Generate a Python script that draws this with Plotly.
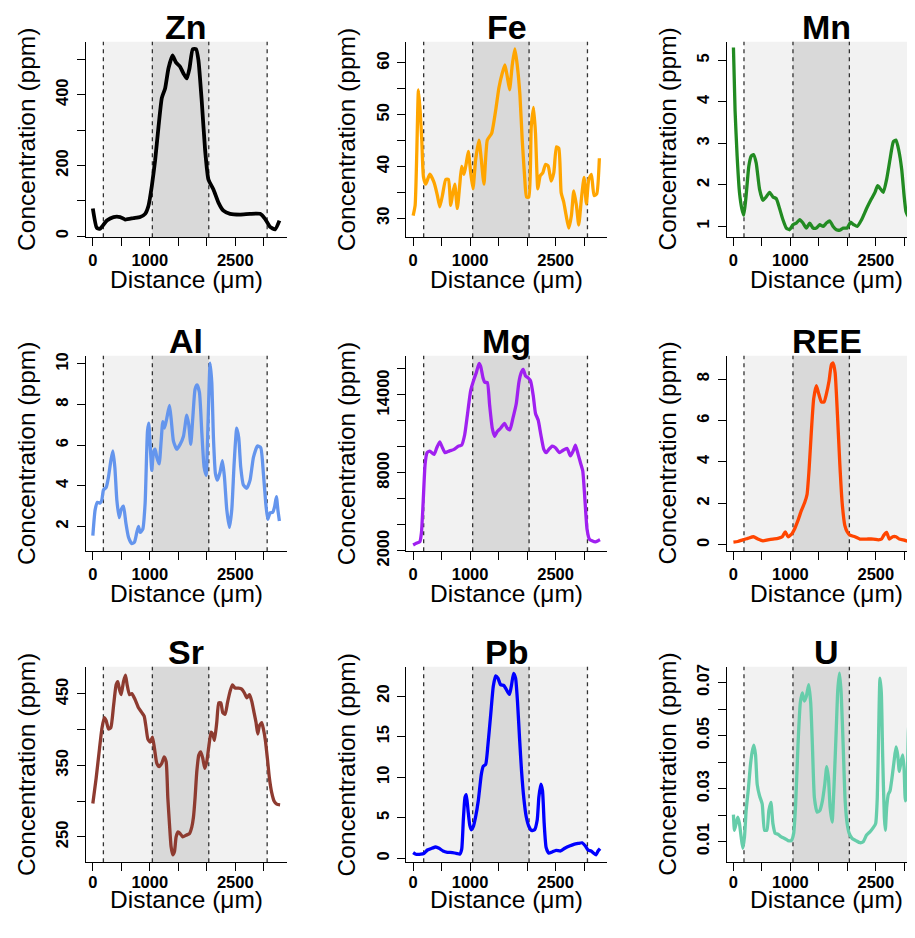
import plotly.graph_objects as go
from plotly.subplots import make_subplots

# --- profile data: distance (um) vs concentration (ppm) ---
zn_dist = [0, 70, 129, 246, 363, 480, 567, 713, 830, 918, 977, 1035, 1094, 1152, 1211, 1269, 1327, 1398,
           1456, 1532, 1591, 1649, 1696, 1754, 1813, 1854, 1912, 1971, 2029, 2117, 2205, 2292, 2409, 2585,
           2760, 2936, 3023, 3111, 3199, 3275]
zn_ppm = [78, 23, 21, 44, 54, 54, 47, 51, 54, 63, 86, 141, 215, 308, 391, 418, 474, 511,
          492, 479, 460, 446, 474, 529, 529, 497, 381, 243, 160, 132, 95, 72, 63, 61,
          63, 63, 49, 26, 19, 44]

fe_dist = [0, 35, 64, 93, 123, 152, 181, 222, 292, 368, 426, 467, 514, 572, 619, 660, 689, 730, 776, 817,
           852, 893, 934, 969, 1010, 1051, 1097, 1156, 1197, 1243, 1302, 1378, 1448, 1506, 1564, 1611,
           1652, 1693, 1740, 1786, 1827, 1874, 1915, 1956, 1991, 2032, 2073, 2114, 2148, 2189, 2230,
           2277, 2323, 2370, 2423, 2469, 2516, 2557, 2598, 2644, 2685, 2732, 2779, 2820, 2866, 2907,
           2954, 3000, 3041, 3082, 3129, 3176, 3222, 3269]
fe_ppm = [30.5, 32.5, 42.6, 54.8, 50.8, 45.0, 38.0, 36.6, 38.5, 36.9, 34.4, 32.2, 34.4, 37.5, 37.5, 32.5,
          34.4, 36.6, 31.9, 36.3, 40.0, 38.5, 40.7, 42.9, 38.8, 35.7, 41.3, 45.1, 41.3, 36.6, 45.1, 46.4,
          50.8, 55.2, 58.0, 59.6, 57.4, 54.8, 59.6, 62.7, 59.6, 53.9, 45.1, 38.2, 34.1, 34.1, 47.6, 51.4,
          46.4, 35.7, 38.2, 38.8, 40.4, 40.1, 37.2, 38.8, 43.8, 43.5, 35.0, 33.1, 30.6, 28.1, 30.6, 35.3,
          32.5, 28.7, 33.8, 37.9, 32.8, 37.5, 38.5, 34.4, 34.7, 41.6]

mn_dist = [0, 29, 65, 106, 147, 182, 223, 270, 311, 352, 399, 458, 517, 575, 634, 693, 752, 810, 869, 928,
           986, 1045, 1104, 1163, 1221, 1280, 1339, 1397, 1456, 1515, 1574, 1632, 1691, 1750, 1808, 1867,
           1926, 1996, 2055, 2114, 2173, 2249, 2337, 2425, 2484, 2531, 2584, 2631, 2690, 2748, 2807, 2854,
           2901, 2954, 2995, 3030, 3071, 3130, 3189, 3230, 3275]
mn_ppm = [5.31, 3.78, 2.69, 1.82, 1.43, 1.27, 1.75, 2.45, 2.69, 2.73, 2.53, 1.90, 1.63, 1.71, 1.82, 1.71,
          1.67, 1.43, 1.16, 0.96, 0.92, 1.04, 1.08, 1.16, 1.08, 0.96, 1.08, 0.96, 0.96, 1.04, 1.00, 1.08,
          1.13, 1.00, 0.92, 0.91, 0.96, 0.96, 1.10, 1.04, 1.00, 1.16, 1.43, 1.67, 1.82, 1.98, 1.90, 1.82,
          2.14, 2.61, 3.04, 3.08, 2.84, 2.37, 1.75, 1.35, 1.24, 1.82, 2.53, 2.9, 3.1]

al_dist = [0, 41, 82, 129, 158, 187, 234, 275, 316, 351, 386, 421, 462, 497, 538, 579, 626, 684, 731, 772,
           801, 830, 877, 918, 959, 982, 1006, 1035, 1064, 1094, 1123, 1164, 1199, 1228, 1257, 1298, 1345,
           1374, 1415, 1474, 1532, 1591, 1649, 1684, 1719, 1754, 1795, 1830, 1871, 1912, 1953, 1988, 2023,
           2058, 2088, 2117, 2152, 2187, 2234, 2275, 2310, 2351, 2398, 2439, 2480, 2526, 2561, 2596, 2643,
           2702, 2760, 2819, 2889, 2947, 2994, 3035, 3070, 3111, 3158, 3193, 3222, 3251, 3275]
al_ppm = [1.55, 2.83, 3.19, 3.15, 3.30, 3.80, 3.92, 4.44, 5.24, 5.72, 4.92, 3.31, 2.43, 2.83, 3.00, 2.19,
          1.47, 1.15, 1.23, 1.71, 2.00, 1.71, 1.87, 3.15, 6.68, 7.08, 6.04, 4.76, 5.64, 5.80, 5.40, 5.08,
          6.20, 7.16, 6.84, 7.32, 7.96, 7.32, 6.20, 5.80, 6.04, 6.44, 7.48, 7.00, 6.04, 7.32, 8.76, 8.96,
          8.60, 6.68, 4.92, 4.52, 7.16, 10.04, 9.08, 6.36, 4.60, 4.28, 4.68, 5.24, 4.44, 2.83, 1.95, 2.83,
          5.08, 6.84, 6.36, 4.92, 4.04, 3.88, 4.28, 5.40, 5.96, 5.88, 4.60, 3.15, 2.35, 2.67, 2.70, 3.00,
          3.47, 2.75, 2.27]

mg_dist = [0, 64, 117, 146, 175, 210, 245, 292, 368, 415, 467, 514, 560, 630, 718, 794, 852, 905, 952,
           1010, 1068, 1109, 1156, 1185, 1226, 1261, 1302, 1343, 1389, 1430, 1477, 1535, 1605, 1652, 1699,
           1751, 1810, 1856, 1897, 1932, 1973, 2014, 2061, 2108, 2148, 2195, 2242, 2294, 2335, 2382, 2440,
           2498, 2569, 2627, 2703, 2761, 2808, 2849, 2896, 2936, 2977, 3012, 3053, 3094, 3140, 3199, 3246,
           3281]
mg_ppm = [2430, 2580, 2680, 3380, 5650, 8670, 9550, 9670, 9420, 9930, 10380, 9930, 9550, 9670, 9800,
          10050, 10130, 10930, 12440, 14330, 15210, 15710, 16420, 16210, 15330, 14960, 14960, 13200, 11430,
          10810, 11180, 11430, 11810, 11430, 11310, 12190, 13320, 14960, 15710, 15960, 15460, 15330, 15080,
          13950, 12570, 12060, 10930, 9800, 9550, 9800, 10050, 9930, 9550, 9720, 9870, 9300, 9670, 10130,
          9420, 8790, 8160, 6150, 3640, 2880, 2760, 2680, 2760, 2830]

ree_dist = [0, 76, 164, 252, 352, 429, 517, 605, 693, 781, 857, 910, 957, 1016, 1075, 1133, 1192, 1251,
            1292, 1327, 1368, 1409, 1456, 1497, 1544, 1591, 1632, 1679, 1720, 1750, 1785, 1826, 1867, 1908,
            1955, 1996, 2043, 2132, 2220, 2337, 2454, 2543, 2601, 2642, 2689, 2736, 2795, 2854, 2912, 2983,
            3071, 3159, 3275]
ree_ppm = [0.13, 0.16, 0.24, 0.31, 0.39, 0.28, 0.19, 0.24, 0.28, 0.31, 0.39, 0.63, 0.39, 0.50, 0.78, 1.18,
           1.65, 2.04, 2.43, 3.61, 5.49, 7.06, 7.69, 7.29, 6.90, 6.90, 7.29, 7.92, 8.71, 8.78, 8.31, 6.27,
           3.92, 2.04, 0.94, 0.63, 0.47, 0.39, 0.28, 0.28, 0.28, 0.24, 0.28, 0.47, 0.60, 0.28, 0.39, 0.39,
           0.28, 0.24, 0.16, 0.08, 0.10]

sr_dist = [0, 58, 117, 158, 199, 234, 275, 316, 363, 409, 439, 468, 497, 538, 573, 602, 643, 684, 743, 801,
           860, 901, 930, 965, 1006, 1047, 1082, 1123, 1164, 1211, 1251, 1287, 1316, 1345, 1374, 1404, 1433,
           1462, 1497, 1532, 1579, 1637, 1696, 1737, 1766, 1795, 1825, 1860, 1895, 1930, 1965, 2000, 2035,
           2076, 2105, 2135, 2175, 2211, 2246, 2281, 2322, 2363, 2409, 2450, 2497, 2556, 2614, 2661, 2702,
           2749, 2789, 2830, 2865, 2895, 2924, 2965, 2994, 3029, 3064, 3099, 3140, 3181, 3228, 3287]
sr_ppm = [296.7, 332, 373.6, 401, 417, 412.5, 401, 403, 433, 462.8, 467.4, 456, 449, 467.4, 476.5, 462.8,
          449, 450.5, 442, 430.8, 424, 419, 405.6, 387.3, 382.7, 389.6, 373.6, 353, 348.4, 353, 362, 355.3,
          305, 268.3, 236, 224.8, 229.4, 250, 256.9, 254.6, 250, 252.3, 254.6, 263.7, 277.5, 305, 341.5,
          364.4, 369, 359.8, 346, 355.3, 375.9, 396.5, 394, 385, 410, 437.6, 437.6, 424, 421.6, 437.6, 453.7,
          462.8, 458.2, 458.2, 456.9, 451.4, 444.5, 449, 440, 424, 410, 394, 405.6, 410, 401, 385, 359.8,
          332.4, 311.8, 300.3, 295.8, 294.9]

pb_dist = [0, 47, 134, 193, 251, 327, 397, 455, 525, 601, 689, 776, 817, 852, 881, 911, 934, 963, 993,
           1022, 1057, 1097, 1144, 1197, 1232, 1273, 1313, 1360, 1407, 1448, 1489, 1535, 1594, 1652, 1693,
           1728, 1763, 1798, 1833, 1868, 1903, 1944, 1985, 2032, 2078, 2131, 2178, 2207, 2242, 2271, 2300,
           2335, 2382, 2440, 2510, 2586, 2662, 2744, 2820, 2896, 2966, 3024, 3071, 3123, 3170, 3211, 3246,
           3281]
pb_ppm = [0.72, 0.52, 0.52, 0.64, 1.04, 1.25, 1.41, 1.25, 0.92, 0.76, 0.72, 0.60, 0.52, 1.12, 4.74, 7.55,
          7.87, 5.94, 4.14, 3.53, 3.94, 5.14, 7.15, 10.36, 11.37, 11.57, 13.98, 17.59, 21.2, 22.49, 22.2,
          21.4, 21.29, 20.6, 20.2, 21.4, 22.8, 22.2, 19.2, 14.78, 10.76, 7.35, 5.14, 3.94, 3.45, 3.53, 4.74,
          7.55, 9.16, 8.35, 4.34, 1.33, 0.64, 0.80, 1.00, 0.92, 1.25, 1.53, 1.73, 1.85, 1.93, 1.53, 1.04,
          0.92, 0.64, 0.44, 0.92, 1.20]

u_dist = [0, 18, 47, 76, 106, 135, 164, 194, 223, 264, 299, 329, 358, 388, 417, 458, 505, 546, 587, 622,
          658, 693, 734, 781, 840, 898, 957, 1016, 1057, 1092, 1133, 1174, 1210, 1245, 1280, 1321, 1356,
          1386, 1421, 1468, 1515, 1562, 1603, 1638, 1668, 1697, 1732, 1767, 1803, 1832, 1862, 1891, 1926,
          1961, 1996, 2032, 2084, 2149, 2220, 2278, 2337, 2396, 2454, 2496, 2525, 2549, 2572, 2596, 2619,
          2649, 2666, 2690, 2719, 2748, 2783, 2819, 2854, 2883, 2912, 2942, 2971, 2995, 3018, 3042, 3071,
          3100, 3130, 3159, 3177, 3220, 3270]
u_ppm = [0.0202, 0.0143, 0.0168, 0.0192, 0.0168, 0.0118, 0.0075, 0.0118, 0.0217, 0.0303, 0.0390, 0.0439,
         0.0464, 0.0427, 0.0316, 0.0273, 0.0242, 0.0143, 0.0143, 0.0217, 0.0248, 0.0168, 0.0131, 0.0128,
         0.0118, 0.0112, 0.0104, 0.0104, 0.0131, 0.0242, 0.0464, 0.0624, 0.0661, 0.0630, 0.0648, 0.0692,
         0.0624, 0.0464, 0.0266, 0.0211, 0.0217, 0.0254, 0.0316, 0.0383, 0.0340, 0.0229, 0.0174, 0.0316,
         0.0513, 0.0673, 0.0735, 0.0661, 0.0464, 0.0254, 0.0168, 0.0131, 0.0112, 0.0104, 0.0096, 0.0100,
         0.0125, 0.0137, 0.0153, 0.0168, 0.0266, 0.0513, 0.0716, 0.0661, 0.0427, 0.0192, 0.0143, 0.0229,
         0.0279, 0.0291, 0.0340, 0.0402, 0.0457, 0.0427, 0.0365, 0.0402, 0.0427, 0.0377, 0.0254, 0.0279,
         0.0513, 0.0611, 0.0587, 0.0242, 0.0069, 0.0080, 0.0120]

# zone boundaries along the transect (um)
boundaries = [185, 1045, 2035, 3060]

x_ticks = [0, 500, 1000, 1500, 2000, 2500, 3000]
x_ticklabels = ["0", "", "1000", "", "", "2500", ""]

zn_ticks = [0, 100, 200, 300, 400, 500]
zn_labels = ["0", "", "200", "", "400", ""]
fe_ticks = [30, 35, 40, 45, 50, 55, 60]
fe_labels = ["30", "", "40", "", "50", "", "60"]
mn_ticks = [1, 2, 3, 4, 5]
mn_labels = ["1", "2", "3", "4", "5"]
al_ticks = [2, 4, 6, 8, 10]
al_labels = ["2", "4", "6", "8", "10"]
mg_ticks = [2000, 4000, 6000, 8000, 10000, 12000, 14000, 16000]
mg_labels = ["2000", "", "", "8000", "", "", "14000", ""]
ree_ticks = [0, 2, 4, 6, 8]
ree_labels = ["0", "2", "4", "6", "8"]
sr_ticks = [250, 300, 350, 400, 450]
sr_labels = ["250", "", "350", "", "450"]
pb_ticks = [0, 5, 10, 15, 20]
pb_labels = ["0", "5", "10", "15", "20"]
u_ticks = [0.01, 0.02, 0.03, 0.04, 0.05, 0.06, 0.07]
u_labels = ["0.01", "", "0.03", "", "0.05", "", "0.07"]

panels = [
    ("Zn", zn_dist, zn_ppm, "black", zn_ticks, zn_labels, [-3, 550]),
    ("Fe", fe_dist, fe_ppm, "#FFA500", fe_ticks, fe_labels, [26.35, 64.1]),
    ("Mn", mn_dist, mn_ppm, "#228B22", mn_ticks, mn_labels, [0.74, 5.45]),
    ("Al", al_dist, al_ppm, "#6495ED", al_ticks, al_labels, [0.78, 10.4]),
    ("Mg", mg_dist, mg_ppm, "#A020F0", mg_ticks, mg_labels, [1950, 17020]),
    ("REE", ree_dist, ree_ppm, "#FF4500", ree_ticks, ree_labels, [-0.31, 9.13]),
    ("Sr", sr_dist, sr_ppm, "#8E3B30", sr_ticks, sr_labels, [214.3, 488]),
    ("Pb", pb_dist, pb_ppm, "#0000FF", pb_ticks, pb_labels, [-0.48, 23.6]),
    ("U", u_dist, u_ppm, "#66CDAA", u_ticks, u_labels, [0.0022, 0.0759]),
]

# the page body keeps an 8px margin all round; size the figure so the page is exactly 915x938
BODY = 8
W, H = 915 - BODY, 938 - 2 * BODY
STEP = 320.3                      # panel pitch (px)
LEFT0, PW = 86.0 - BODY, 200.7    # plot area left / width of first column
TOP0, PH = 39.3 - BODY, 199.4     # plot area top / height of first row
XMIN, XMAX = -120, 3403
FONT = "Liberation Sans, Arial, sans-serif"

fig = make_subplots(rows=3, cols=3)

annotations = []
for i, (name, dist, ppm, colour, yt, ylab, yr) in enumerate(panels):
    r, c = i // 3, i % 3
    row, col = r + 1, c + 1
    # bottom row is nudged up a little so its labels stay on the page
    last_row = r == 2
    left = LEFT0 + STEP * c
    right = left + PW
    top = TOP0 + STEP * r - (3 if last_row else 0)
    bottom = top + PH
    cx = left + PW / 2

    # last column is cut off by the right edge of the picture
    xr = [XMIN, XMAX]
    if right > W:
        xr = [XMIN, XMIN + (XMAX - XMIN) * (W - left) / PW]
        right = W

    fig.add_trace(go.Scatter(x=dist, y=ppm, mode="lines", name=name,
                             line=dict(color=colour, width=3.8 if name == "Zn" else 3.3,
                                       shape="spline", smoothing=0.5),
                             showlegend=False), row=row, col=col)

    # background zones and their dashed limits
    fig.add_vrect(x0=boundaries[0], x1=boundaries[3], fillcolor="#F2F2F2", opacity=1, line_width=0,
                  layer="below", row=row, col=col)
    fig.add_vrect(x0=boundaries[1], x1=boundaries[2], fillcolor="#D9D9D9", opacity=1, line_width=0,
                  layer="below", row=row, col=col)
    for b in boundaries:
        fig.add_vline(x=b, line_dash="4px,4px", line_color="#333333", line_width=1.3,
                      layer="below", row=row, col=col)

    fig.update_xaxes(domain=[left / W, right / W], range=xr, tickvals=x_ticks, ticktext=x_ticklabels,
                     ticklabelstandoff=-3 if last_row else 0, row=row, col=col)
    fig.update_yaxes(domain=[1 - bottom / H, 1 - top / H], range=yr, tickvals=yt, ticktext=ylab,
                     tickangle=-90, row=row, col=col)

    annotations.append(dict(text="<b>%s</b>" % name, x=cx / W, y=1 - (top + 6.5) / H,
                            xref="paper", yref="paper", xanchor="center", yanchor="bottom",
                            showarrow=False, font=dict(family=FONT, size=34, color="black")))
    annotations.append(dict(text="Distance (μm)", x=cx / W, y=1 - min(bottom + 59, H) / H,
                            xref="paper", yref="paper", xanchor="center", yanchor="bottom",
                            showarrow=False, font=dict(family=FONT, size=24.5, color="black")))
    annotations.append(dict(text="Concentration (ppm)", x=(26.5 - BODY + STEP * c) / W,
                            y=1 - (top + PH / 2) / H, textangle=-90,
                            xref="paper", yref="paper", xanchor="center", yanchor="middle",
                            showarrow=False, font=dict(family=FONT, size=24.5, color="black")))

fig.update_xaxes(showline=True, linecolor="black", linewidth=1, ticks="outside", ticklen=8,
                 tickwidth=1, tickcolor="black", showgrid=False, zeroline=False,
                 tickfont=dict(family=FONT, size=16.5, color="black", weight="bold"))
fig.update_yaxes(showline=True, linecolor="black", linewidth=1, ticks="outside", ticklen=8,
                 tickwidth=1, tickcolor="black", showgrid=False, zeroline=False, ticklabelstandoff=2,
                 tickfont=dict(family=FONT, size=16.5, color="black", weight="bold"))

fig.update_layout(width=W, height=H, margin=dict(l=0, r=0, t=0, b=0),
                  plot_bgcolor="white", paper_bgcolor="white",
                  annotations=list(fig.layout.annotations) + annotations)

fig.write_html("out.html")
